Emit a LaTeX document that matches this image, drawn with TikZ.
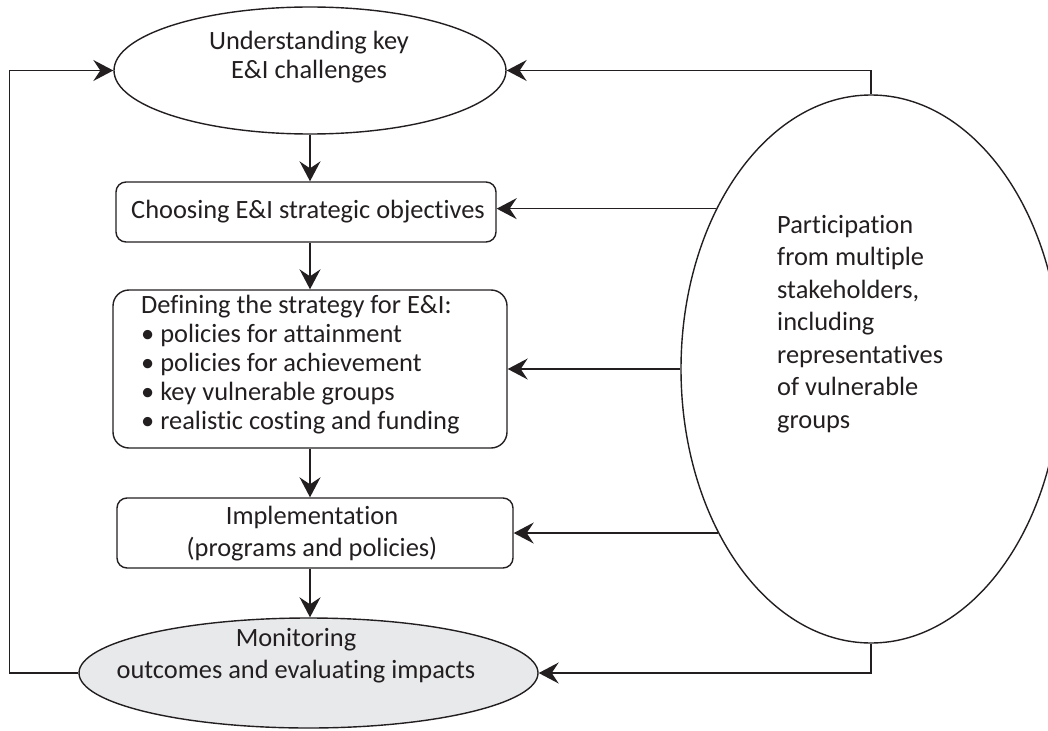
\documentclass[tikz,border=0pt]{standalone}
\usepackage{fontspec}
\setmainfont{Carlito}[Ligatures={NoCommon,NoRequired,NoContextual},Contextuals={NoAlternate}]
\usetikzlibrary{arrows.meta,shapes.geometric}
\definecolor{ink}{RGB}{35,31,32}
\definecolor{monfill}{RGB}{232,233,235}
\newcommand{\tI}{t\kern0pt i}
\begin{document}
\begin{tikzpicture}[x=1pt,y=-1pt,
  every node/.style={text=ink},
  txt/.style={font=\fontsize{26.4}{#1}\selectfont, inner sep=0pt},
  ln/.style={line width=1.4pt, draw=ink},
  arr/.style={ln, -{Stealth[length=20pt,width=21pt,inset=7pt]}},
  oval/.style={ellipse, draw=ink, line width=1.4pt, inner sep=0pt},
  box/.style={draw=ink, line width=1.4pt, rounded corners=10pt, inner sep=0pt}]
\useasboundingbox (0,0) rectangle (1048,730);

% shapes
\node[oval, minimum width=392pt, minimum height=127pt] (e1) at (310,70.5) {};
\node[box, minimum width=380pt, minimum height=60pt] (b2) at (306,212) {};
\node[box, rounded corners=16pt, minimum width=394pt, minimum height=158pt] (b3) at (310,369) {};
\node[box, minimum width=396pt, minimum height=70pt] (b4) at (315,533) {};
\node[oval, fill=monfill, minimum width=459pt, minimum height=110pt] (e5) at (308.5,673) {};
\node[oval, minimum width=380pt, minimum height=548pt] (big) at (871,369) {};

% texts
\node[txt=29pt, align=center] (t1) at (309,57.5) {Understanding key\\E\&I challenges};
\node[txt=29pt] (t2) at (308,212) {Choosing E\&I strategic objec\tI ves};
\node[txt=29pt, align=left, anchor=west] (t3) at (141,365)
  {Defining the strategy for E\&I:\\• policies for attainment\\• policies for achievement\\• key vulnerable groups\\• realis\tI c costing and funding};
\node[txt=32pt, align=center] (t4) at (312,534) {Implementa\tI on\\(programs and policies)};
\node[txt=32pt, align=center] (t5) at (296,656) {Monitoring\\outcomes and evalua\tI ng impacts};
\node[txt=32.5pt, align=left, anchor=west] (t6) at (777,324)
  {Par\tI cipa\tI on\\from multiple\\stakeholders,\\including\\representa\tI ves\\of vulnerable\\groups};

% main flow
\draw[arr] (e1.south) -- (b2.north -| e1.south);
\draw[arr] (b2.south -| e1.south) -- (b3.north -| e1.south);
\draw[arr] (b3.south -| e1.south) -- (b4.north -| e1.south);
\draw[arr] (b4.south -| e1.south) -- (e5.north -| e1.south);

% feedback loop
\draw[arr] (e5.west) -- ++(-69,0) |- (e1.west);

% participation arrows
\draw[arr] (big.north) |- (e1.east);
\draw[arr] (big.134.8) -- (b2.east |- big.134.8);
\draw[arr] (big.west) -- (b3.east |- big.west);
\draw[arr] (big.227.1) -- (b4.east |- big.227.1);
\draw[arr] (big.south) |- (e5.east);
\end{tikzpicture}
\end{document}
